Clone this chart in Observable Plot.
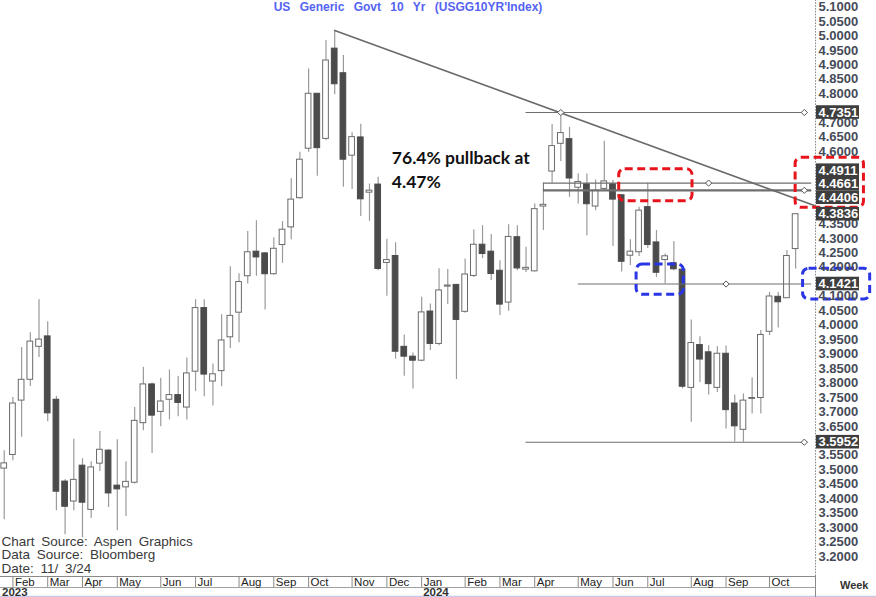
<!DOCTYPE html>
<html>
<head>
<meta charset="utf-8">
<script src="https://cdn.jsdelivr.net/npm/d3@7"></script>
<script src="https://cdn.jsdelivr.net/npm/@observablehq/plot@0.6"></script>
<style>
  body { margin: 0; background: #fff; }
  #chart { width: 876px; height: 597px; overflow: hidden; }
</style>
</head>
<body>
<div id="chart"></div>
<script>
// ---- Data (weekly candles) ----
const firstWeek = "2023-01-30";
const opens = [3.504,3.551,3.739,3.811,3.925,3.961,3.742,3.459,3.390,3.514,
3.361,3.521,3.566,3.445,3.439,3.455,3.661,3.795,3.700,3.742,
3.758,3.715,3.839,4.059,3.805,3.841,3.958,4.043,4.169,4.254,
4.248,4.176,4.277,4.338,4.439,4.610,4.800,4.644,4.956,4.871,
4.586,4.649,4.458,4.486,4.215,4.239,3.925,3.891,3.877,4.047,
3.935,4.133,4.139,4.046,4.170,4.278,4.254,4.188,4.078,4.304,
4.192,4.186,4.410,4.531,4.627,4.643,4.475,4.487,4.410,4.471,
4.487,4.449,4.240,4.252,4.408,4.286,4.225,4.214,4.192,3.783,
3.931,3.906,3.783,3.901,3.729,3.638,3.745,3.748,3.977,4.098,
4.093,4.263];
const highs = [3.566,3.750,3.923,3.974,4.088,4.012,3.754,3.465,3.605,3.538,
3.528,3.632,3.570,3.604,3.528,3.715,3.854,3.800,3.816,3.845,
3.822,3.886,4.088,4.088,3.866,4.036,4.202,4.178,4.324,4.361,
4.251,4.302,4.358,4.506,4.598,4.886,4.800,4.984,5.019,4.932,
4.665,4.695,4.488,4.511,4.297,4.285,3.966,3.904,4.096,4.073,
4.195,4.192,4.141,4.229,4.329,4.344,4.313,4.223,4.347,4.344,
4.269,4.419,4.470,4.694,4.7351,4.684,4.523,4.523,4.502,4.636,
4.500,4.451,4.295,4.408,4.491,4.327,4.246,4.289,4.200,4.018,
3.960,3.929,3.925,3.928,3.758,3.762,3.817,3.981,4.113,4.113,
4.258,4.383];
const lows = [3.327,3.531,3.612,3.788,3.888,3.666,3.358,3.275,3.358,3.265,
3.331,3.494,3.369,3.289,3.338,3.451,3.635,3.556,3.649,3.672,
3.683,3.672,3.770,3.752,3.720,3.787,3.919,3.939,4.142,4.169,
4.052,4.173,4.214,4.295,4.435,4.598,4.515,4.638,4.797,4.477,
4.469,4.376,4.359,4.188,4.100,3.882,3.823,3.779,3.873,3.912,
3.929,4.071,3.812,4.041,4.165,4.230,4.154,4.033,4.048,4.188,
4.182,4.184,4.327,4.491,4.566,4.442,4.419,4.309,4.396,4.465,
4.272,4.184,4.206,4.237,4.265,4.165,4.1421,4.188,3.780,3.664,
3.802,3.758,3.767,3.641,3.596,3.5952,3.693,3.693,3.964,3.990,
4.092,4.194];
const closes = [3.522,3.729,3.811,3.943,3.950,3.695,3.424,3.372,3.465,3.386,
3.508,3.569,3.418,3.432,3.458,3.669,3.795,3.687,3.736,3.758,
3.731,3.833,4.059,3.829,3.830,3.947,4.032,4.149,4.252,4.234,
4.176,4.264,4.330,4.434,4.572,4.800,4.612,4.915,4.833,4.572,
4.650,4.435,4.465,4.194,4.225,3.908,3.891,3.877,4.044,3.935,
4.120,4.137,4.018,4.175,4.278,4.246,4.177,4.071,4.305,4.196,
4.198,4.401,4.416,4.619,4.664,4.507,4.495,4.418,4.464,4.497,
4.434,4.219,4.254,4.396,4.277,4.181,4.238,4.193,3.787,3.938,
3.881,3.796,3.901,3.706,3.650,3.739,3.748,3.966,4.099,4.079,
4.239,4.3836];

// right-axis tick labels
const yTicks = [3.20,3.25,3.30,3.35,3.40,3.45,3.50,3.55,3.60,3.65,3.70,3.75,3.80,3.85,3.90,3.95,
4.00,4.05,4.10,4.15,4.20,4.25,4.30,4.35,4.40,4.45,4.50,4.55,4.60,4.65,4.70,4.75,4.80,4.85,4.90,4.95,5.00,5.05,5.10];
// highlighted levels on the right axis
const highlightValues = [4.7351, 4.4911, 4.4661, 4.4406, 4.3836, 4.1421, 3.5952];
// horizontal level lines
const levelValues = [4.7351, 4.4911, 4.4661, 4.1421, 3.5952];
const levelStarts = ["2024-03-25", "2024-04-08", "2024-04-08", "2024-05-06", "2024-03-25"];
const levelEnds   = ["2024-11-07", "2024-11-10", "2024-11-10", "2024-11-10", "2024-11-07"];
// diamond markers
const markerDates  = ["2024-04-22", "2024-11-04", "2024-08-19", "2024-11-04", "2024-09-02", "2024-11-04"];
const markerValues = [4.7351, 4.7351, 4.4911, 4.4661, 4.1421, 3.5952];
// trend line (from Oct-2023 high)
const trendDates  = ["2023-10-23", "2024-11-12"];
const trendValues = [5.019, 4.4136];
// dashed annotation boxes
const redBoxes  = [{from: "2024-06-08", to: "2024-08-06", lo: 4.4285, hi: 4.5391},
                   {from: "2024-10-28", to: "2024-12-22", lo: 4.4057, hi: 4.5786}];
const blueBoxes = [{from: "2024-06-22", to: "2024-07-30", lo: 4.1049, hi: 4.2096},
                   {from: "2024-11-03", to: "2024-12-27", lo: 4.0886, hi: 4.1947}];

const titleText = "US Generic Govt 10 Yr (USGG10YR'Index)";
const noteText = "76.4% pullback at\n4.47%";
const noteAt = {date: "2023-12-08", value: 4.5416};
const captionLines = ["Chart Source: Aspen Graphics", "Data Source: Bloomberg", "Date: 11/ 3/24"];

// ---- Build ----
const D = s => new Date(s);
const start = D(firstWeek);
const weeks = d3.utcMonday.range(start, d3.utcMonday.offset(start, opens.length));
const candles = opens.map((o, i) => ({date: weeks[i], open: o, high: highs[i], low: lows[i], close: closes[i], up: closes[i] >= o}));
const monthTicks = weeks.filter((d, i) => i > 0 && d.getUTCMonth() !== weeks[i - 1].getUTCMonth());
const yearTicks = [{date: D("2023-01-27"), label: "2023"}, ...monthTicks.filter(d => d.getUTCMonth() === 0).map(d => ({date: d, label: String(d.getUTCFullYear())}))];

const xDomain = [D("2023-01-27"), D("2024-11-13")];
const yTop = 5.1225, yBottom = 3.1308;       // plot frame edges
const yBand = 3.0927, yLav = 3.0616, yEdge = 3.0582; // bottom date band rows
const xEnd = xDomain[1];

const levels = levelValues.map((v, i) => ({value: v, from: D(levelStarts[i]), to: D(levelEnds[i])}));
const markers = markerDates.map((d, i) => ({date: D(d), value: markerValues[i]}));
const trend = trendDates.map((d, i) => ({date: D(d), value: trendValues[i]}));
const toRect = b => ({x1: D(b.from), x2: D(b.to), y1: b.lo, y2: b.hi});

// dodge highlight labels upward so they don't overlap
const gap = 0.0467;
const hl = highlightValues.slice().sort((a, b) => a - b).map(v => ({value: v, pos: v}));
for (let i = 1; i < hl.length; i++) hl[i].pos = Math.max(hl[i].value, hl[i - 1].pos + gap);
// plain tick labels that are entirely hidden behind a highlight box are skipped
const visibleTicks = yTicks.filter(t => !hl.some(h => Math.abs(h.pos - t) < 0.03));

const half = 55; // hours each side of week centre for candle body
const fmtMonth = d3.utcFormat("%b");

const chart = Plot.plot({
  width: 876,
  height: 597,
  marginLeft: 0,
  marginRight: 61,
  marginTop: 0,
  marginBottom: 21,
  x: {type: "utc", domain: xDomain, axis: null},
  y: {domain: [yBottom, yTop], axis: null},
  style: {fontFamily: "'Liberation Sans', Arial, sans-serif", background: "white", overflow: "visible"},
  marks: [
    // bottom date band
    Plot.ruleY([yBottom], {stroke: "#8a8a8a", strokeWidth: 1}),
    Plot.ruleY([yBand], {stroke: "#a0a0a0", strokeWidth: 1}),
    Plot.ruleY([yLav], {x1: xDomain[0], x2: D("2025-02-01"), stroke: "#c8c8ec", strokeWidth: 1.5}),
    Plot.ruleX(monthTicks, {x: d => d, y1: yBand, y2: yBottom, stroke: "#8a8a8a"}),
    Plot.text(monthTicks, {x: d => d, y: yBottom, text: d => fmtMonth(d), dx: 2, dy: 6, textAnchor: "start", fontSize: 11.5, fill: "#222"}),
    Plot.text(yearTicks, {x: "date", y: yBottom, text: "label", dx: 1.5, dy: 16, textAnchor: "start", fontSize: 11.5, fontWeight: "bold", fill: "#333"}),
    Plot.text(["Week"], {frameAnchor: "bottom-right", dx: 53, dy: 12, textAnchor: "end", fontSize: 11, fontWeight: "bold", fill: "#333"}),
    // right axis line
    Plot.ruleX([xEnd], {y1: yBottom, y2: yTop, stroke: "#8a8a8a", strokeWidth: 1, strokeDasharray: "1.6,1.29"}),
    Plot.ruleX([xEnd], {y1: yEdge, y2: yBottom, stroke: "#8a8a8a", strokeWidth: 1}),

    // candles
    Plot.ruleX(candles, {x: "date", y1: "low", y2: "high", stroke: "#9a9a9a", strokeWidth: 1.2}),
    Plot.rect(candles.filter(d => d.up), {
      x1: d => d3.utcHour.offset(d.date, -half), x2: d => d3.utcHour.offset(d.date, half),
      y1: "open", y2: "close", fill: "white", stroke: "#6a6a6a", strokeWidth: 1
    }),
    Plot.rect(candles.filter(d => !d.up), {
      x1: d => d3.utcHour.offset(d.date, -half), x2: d => d3.utcHour.offset(d.date, half),
      y1: "open", y2: "close", fill: "#4b4b4b", stroke: "#4b4b4b", strokeWidth: 1
    }),

    // level lines
    Plot.ruleY(levels.filter(d => d.value !== 4.4661), {y: "value", x1: "from", x2: "to", stroke: "#6e6e6e", strokeWidth: 1.1}),
    Plot.ruleY(levels.filter(d => d.value === 4.4661), {y: "value", x1: "from", x2: "to", stroke: "#6e6e6e", strokeWidth: 2.2}),
    Plot.ruleX([levels[1]], {x: "from", y1: levels[2].value, y2: levels[1].value, stroke: "#6e6e6e", strokeWidth: 1}),
    // trend line
    Plot.line(trend, {x: "date", y: "value", stroke: "#6a6a6a", strokeWidth: 1.6}),
    Plot.dot(markers, {x: "date", y: "value", symbol: "diamond2", r: 2.8, fill: "white", stroke: "#555", strokeWidth: 1}),

    // annotation boxes
    Plot.rect(redBoxes.map(toRect), {x1: "x1", x2: "x2", y1: "y1", y2: "y2", fill: "none", stroke: "#e8141c", strokeWidth: 3, strokeDasharray: "8,4.5", rx: 6}),
    Plot.rect(blueBoxes.map(toRect), {x1: "x1", x2: "x2", y1: "y1", y2: "y2", fill: "none", stroke: "#2a36e6", strokeWidth: 3, strokeDasharray: "8,4.5", rx: 6}),

    // annotation text
    Plot.text([noteAt], {x: d => D(d.date), y: "value", text: () => noteText, textAnchor: "start", lineAnchor: "middle", lineHeight: 1.38,
      fontFamily: "Lato, 'Open Sans', sans-serif", fontWeight: "bold", fontSize: 17.5, fill: "#111"}),

    // right axis labels
    Plot.text(visibleTicks, {x: xEnd, y: d => d, text: d => d.toFixed(4), dx: 3, textAnchor: "start", fontSize: 13, fontWeight: "bold", fill: "#454b58"}),
    Plot.rect(hl, {x1: xEnd, x2: xEnd, y1: d => d.pos - 0.0235, y2: d => d.pos + 0.0235, insetLeft: 1, insetRight: -44, fill: "#3e3e3e"}),
    Plot.text(hl, {x: xEnd, y: "pos", text: d => d.value.toFixed(4), dx: 3, textAnchor: "start", fontSize: 13, fontWeight: "bold", fill: "white"}),

    // title and caption
    Plot.text([titleText], {frameAnchor: "top", dy: 7, lineAnchor: "middle", fontSize: 12, fontWeight: "bold", fill: "#5563f2"}),
    Plot.text([captionLines.join("\n")], {frameAnchor: "bottom-left", dx: 1, dy: -21.5, textAnchor: "start", lineAnchor: "middle", lineHeight: 1.02, fontSize: 13.5, fill: "#3a3a3a"})
  ]
});

// wider word spacing for title and caption, as in the source chart
chart.querySelectorAll("text").forEach(t => {
  const s = t.textContent;
  if (s.startsWith("US Generic")) t.style.wordSpacing = "6px";
  if (s.startsWith("Chart Source")) t.style.wordSpacing = "3px";
});
document.getElementById("chart").appendChild(chart);
</script>
</body>
</html>
